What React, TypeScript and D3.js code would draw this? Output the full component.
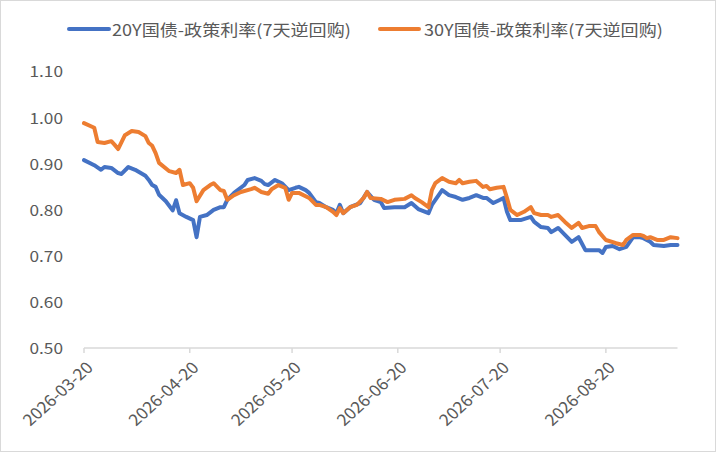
import React from 'react';
import * as d3 from 'd3';

const seriesNames = ['20Y国债-政策利率(7天逆回购)', '30Y国债-政策利率(7天逆回购)'];

const dates20 = [
  '2026-03-20','2026-03-23','2026-03-25','2026-03-26','2026-03-28','2026-03-30','2026-03-31','2026-04-02','2026-04-04','2026-04-07',
  '2026-04-08','2026-04-09','2026-04-10','2026-04-11','2026-04-13','2026-04-15','2026-04-16','2026-04-17','2026-04-19','2026-04-21',
  '2026-04-22','2026-04-23','2026-04-25','2026-04-27','2026-04-29','2026-04-30','2026-05-01','2026-05-03','2026-05-06','2026-05-07',
  '2026-05-09','2026-05-11','2026-05-12','2026-05-13','2026-05-15','2026-05-17','2026-05-19','2026-05-21','2026-05-22','2026-05-24',
  '2026-05-25','2026-05-27','2026-05-28','2026-05-30','2026-06-01','2026-06-02','2026-06-03','2026-06-04','2026-06-06','2026-06-09',
  '2026-06-11','2026-06-13','2026-06-15','2026-06-16','2026-06-19','2026-06-22','2026-06-24','2026-06-26','2026-06-29','2026-06-30',
  '2026-07-03','2026-07-05','2026-07-07','2026-07-09','2026-07-11','2026-07-13','2026-07-15','2026-07-16','2026-07-18','2026-07-20',
  '2026-07-21','2026-07-22','2026-07-23','2026-07-26','2026-07-29','2026-07-30','2026-08-01','2026-08-03','2026-08-04','2026-08-06',
  '2026-08-08','2026-08-10','2026-08-12','2026-08-14','2026-08-15','2026-08-18','2026-08-19','2026-08-20','2026-08-22','2026-08-24',
  '2026-08-26','2026-08-28','2026-08-30','2026-08-31','2026-09-02','2026-09-03','2026-09-06','2026-09-08','2026-09-10',
];
const yield20 = [
  0.907,0.896,0.886,0.892,0.890,0.879,0.877,0.892,0.886,0.873,
  0.864,0.853,0.849,0.832,0.818,0.798,0.820,0.792,0.784,0.777,
  0.740,0.784,0.788,0.799,0.805,0.805,0.821,0.836,0.853,0.864,
  0.868,0.862,0.855,0.853,0.864,0.857,0.842,0.847,0.849,0.842,
  0.836,0.816,0.814,0.805,0.799,0.792,0.810,0.792,0.805,0.814,
  0.838,0.821,0.816,0.803,0.805,0.805,0.814,0.801,0.792,0.810,
  0.842,0.831,0.827,0.821,0.825,0.831,0.825,0.825,0.814,0.821,
  0.825,0.795,0.777,0.777,0.784,0.773,0.762,0.760,0.751,0.760,
  0.745,0.730,0.740,0.712,0.712,0.712,0.706,0.719,0.721,0.714,
  0.719,0.740,0.740,0.738,0.730,0.723,0.721,0.723,0.723,
];

const dates30 = [
  '2026-03-20','2026-03-23','2026-03-24','2026-03-26','2026-03-28','2026-03-29','2026-03-30','2026-04-01','2026-04-03','2026-04-05',
  '2026-04-07','2026-04-08','2026-04-09','2026-04-10','2026-04-11','2026-04-14','2026-04-16','2026-04-17','2026-04-18','2026-04-20',
  '2026-04-21','2026-04-22','2026-04-24','2026-04-26','2026-04-27','2026-04-29','2026-04-30','2026-05-01','2026-05-03','2026-05-05',
  '2026-05-08','2026-05-09','2026-05-11','2026-05-13','2026-05-14','2026-05-16','2026-05-18','2026-05-19','2026-05-20','2026-05-22',
  '2026-05-25','2026-05-27','2026-05-28','2026-05-30','2026-06-01','2026-06-02','2026-06-03','2026-06-04','2026-06-06','2026-06-08',
  '2026-06-10','2026-06-11','2026-06-12','2026-06-15','2026-06-17','2026-06-19','2026-06-22','2026-06-24','2026-06-25','2026-06-27',
  '2026-06-29','2026-06-30','2026-07-01','2026-07-03','2026-07-05','2026-07-07','2026-07-08','2026-07-09','2026-07-11','2026-07-13',
  '2026-07-15','2026-07-16','2026-07-17','2026-07-19','2026-07-21','2026-07-22','2026-07-23','2026-07-25','2026-07-27','2026-07-29',
  '2026-07-30','2026-08-01','2026-08-03','2026-08-04','2026-08-06','2026-08-08','2026-08-10','2026-08-12','2026-08-13','2026-08-15',
  '2026-08-17','2026-08-18','2026-08-20','2026-08-23','2026-08-25','2026-08-26','2026-08-28','2026-08-30','2026-08-31','2026-09-01',
  '2026-09-02','2026-09-04','2026-09-06','2026-09-08','2026-09-10',
];
const yield30 = [
  0.987,0.977,0.946,0.944,0.948,0.940,0.931,0.961,0.970,0.968,
  0.959,0.944,0.938,0.922,0.901,0.883,0.879,0.886,0.853,0.857,
  0.847,0.818,0.842,0.853,0.857,0.842,0.840,0.821,0.831,0.838,
  0.844,0.847,0.838,0.834,0.844,0.853,0.847,0.821,0.836,0.836,
  0.825,0.810,0.810,0.805,0.795,0.788,0.803,0.792,0.805,0.810,
  0.825,0.838,0.825,0.823,0.816,0.821,0.823,0.831,0.825,0.816,
  0.805,0.842,0.857,0.868,0.860,0.857,0.864,0.857,0.860,0.862,
  0.849,0.851,0.844,0.847,0.849,0.825,0.799,0.788,0.795,0.805,
  0.792,0.788,0.788,0.784,0.788,0.773,0.760,0.771,0.760,0.764,
  0.764,0.751,0.734,0.727,0.723,0.734,0.745,0.745,0.743,0.738,
  0.740,0.734,0.734,0.740,0.738,
];

const xTickLabels = ['2026-03-20','2026-04-20','2026-05-20','2026-06-20','2026-07-20','2026-08-20'];
const xDomain = ['2026-03-20', '2026-09-10'];
const yTicks = [0.5, 0.6, 0.7, 0.8, 0.9, 1.0, 1.1];

const W = 716;
const H = 452;
const FONT = '"Noto Sans CJK SC", "Noto Sans", sans-serif';
const TEXT = '#595959';
const AXIS = '#d9d9d9';
const BLUE = '#4472C4';
const ORANGE = '#ED7D31';

export default function App() {
  const parse = d3.utcParse('%Y-%m-%d');
  const x = d3.scaleUtc().domain(xDomain.map((s) => parse(s) as Date)).range([84, 677.5]);
  const y = d3.scaleLinear().domain([0.5, 1.1]).range([348, 71]);

  const line = d3
    .line<[Date, number]>()
    .x((d) => x(d[0]))
    .y((d) => y(d[1]));

  const s20: [Date, number][] = dates20.map((d, i) => [parse(d) as Date, yield20[i]]);
  const s30: [Date, number][] = dates30.map((d, i) => [parse(d) as Date, yield30[i]]);

  const axisY = y(0.5);

  return (
    <svg
      width={W}
      height={H}
      style={{ position: 'absolute', left: 0, top: 0, background: '#fff' }}
      fontFamily={FONT}
    >
      <rect x={0.5} y={0.5} width={W - 1} height={H - 1} fill="#fff" stroke={AXIS} strokeWidth={1} />

      {/* legend */}
      <g>
        <line x1={69} x2={109} y1={29} y2={29} stroke={BLUE} strokeWidth={4} strokeLinecap="round" />
        <text
          transform="translate(112,29) scale(1.13,1)"
          dominantBaseline="central"
          fontSize={16}
          fill={TEXT}
        >
          {seriesNames[0]}
        </text>
        <line x1={380} x2={419} y1={29} y2={29} stroke={ORANGE} strokeWidth={4} strokeLinecap="round" />
        <text
          transform="translate(424,29) scale(1.13,1)"
          dominantBaseline="central"
          fontSize={16}
          fill={TEXT}
        >
          {seriesNames[1]}
        </text>
      </g>

      {/* y labels */}
      {yTicks.map((t) => (
        <text
          key={t}
          transform={`translate(63,${y(t)}) scale(1.15,1)`}
          textAnchor="end"
          dominantBaseline="central"
          fontSize={15}
          fill={TEXT}
        >
          {d3.format('.2f')(t)}
        </text>
      ))}

      {/* x axis */}
      <line x1={x.range()[0]} x2={x.range()[1]} y1={axisY} y2={axisY} stroke={AXIS} strokeWidth={1.5} />
      {xTickLabels.map((s) => {
        const px = x(parse(s) as Date);
        return (
          <g key={s}>
            <line x1={px} x2={px} y1={axisY} y2={axisY + 5} stroke={AXIS} strokeWidth={1.5} />
            <text
              transform={`translate(${px + 5},${axisY + 16}) scale(1.1,1) rotate(-45)`}
              textAnchor="end"
              dominantBaseline="central"
              fontSize={16}
              fill={TEXT}
            >
              {s}
            </text>
          </g>
        );
      })}

      {/* series */}
      <path d={line(s20) || ''} fill="none" stroke={BLUE} strokeWidth={4} strokeLinejoin="round" strokeLinecap="round" />
      <path d={line(s30) || ''} fill="none" stroke={ORANGE} strokeWidth={4} strokeLinejoin="round" strokeLinecap="round" />
    </svg>
  );
}
